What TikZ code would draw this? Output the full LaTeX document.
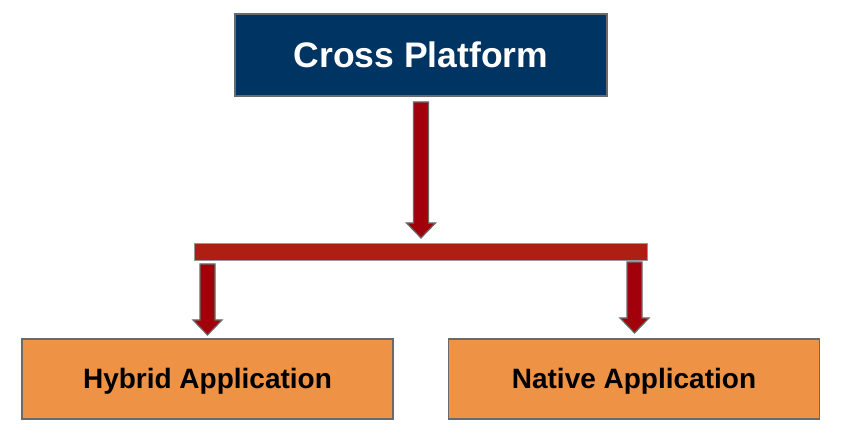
\documentclass[tikz,border=0pt]{standalone}
\usepackage{fontspec}
\setmainfont{Liberation Sans}
\usetikzlibrary{calc}
\definecolor{navy}{HTML}{003462}
\definecolor{orangebox}{HTML}{EE9245}
\definecolor{arrowred}{HTML}{A2000A}
\definecolor{barred}{HTML}{AF1E12}
\definecolor{edgegray}{HTML}{6A6A6A}
\tikzset{
  topbox/.style={draw=edgegray, line width=1.5pt, fill=navy, minimum width=372pt, minimum height=82pt, inner sep=0pt, text height=25.5pt, text depth=0pt, text=white, font=\bfseries\fontsize{35.5}{40}\selectfont},
  appbox/.style={draw=edgegray, line width=1.2pt, fill=orangebox, minimum width=371pt, minimum height=80pt, inner sep=0pt, text height=19pt, text depth=0pt, text=black, font=\bfseries\fontsize{28}{32}\selectfont},
  barbox/.style={draw=edgegray!70, line width=1pt, fill=barred, minimum width=453pt, minimum height=17pt, inner sep=0pt},
  blockarr/.style={draw=edgegray, line width=1.2pt, fill=arrowred, line join=miter}
}
% #1 start coordinate, #2 tip coordinate (vertical, downward)
\newcommand{\downblock}[2]{%
  \draw[blockarr] let \p1=(#1), \p2=(#2) in
    (\x1-7.5pt,\y1) -- (\x1+7.5pt,\y1) -- (\x1+7.5pt,\y2+15pt) -- (\x1+14.5pt,\y2+15pt)
    -- (\x1,\y2) -- (\x1-14.5pt,\y2+15pt) -- (\x1-7.5pt,\y2+15pt) -- cycle;}
\begin{document}
\begin{tikzpicture}[x=1pt,y=1pt]
\useasboundingbox (0,0) rectangle (841,441);
\fill[white] (0,0) rectangle (841,441);
\node[topbox] (cp) at (421,386) {Cross Platform};
\node[barbox] (bar) at (420.5,188.5) {};
\node[appbox] (hy) at (207.5,62) {Hybrid Application};
\node[appbox] (na) at (634,62) {Native Application};
\coordinate (c1) at (421,339);
\coordinate (c2) at (421,203);
\coordinate (l1) at (207.5,177);
\coordinate (l2) at (207.5,106);
\coordinate (r1) at (634.5,179);
\coordinate (r2) at (634.5,108);
\downblock{c1}{c2}
\downblock{l1}{l2}
\downblock{r1}{r2}
\end{tikzpicture}
\end{document}
